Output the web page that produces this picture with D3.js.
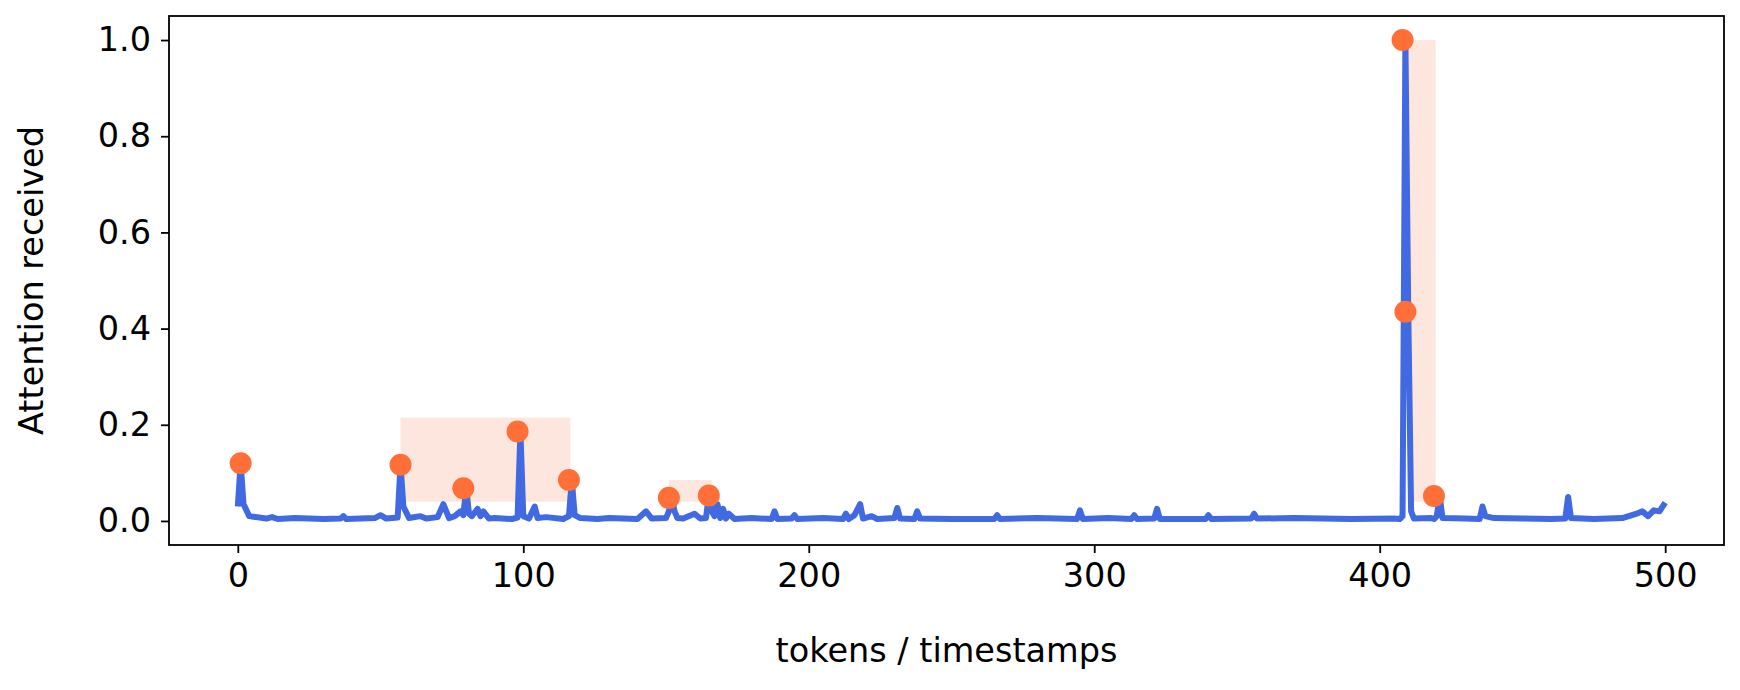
<!DOCTYPE html>
<html>
<head>
<meta charset="utf-8">
<script src="https://cdn.jsdelivr.net/npm/d3@7"></script>
<style>
  body { margin: 0; background: #fff; }
  text { font-family: "DejaVu Sans", sans-serif; }
</style>
</head>
<body>
<div id="chart"></div>
<script>
// line vertices (token index, attention)
const tokens = [0, 1, 2, 4, 10, 12, 14, 20, 30, 36, 37, 38, 48, 50, 52, 56, 57, 58, 60, 64, 66, 70, 72, 74, 76, 78, 79, 80, 81, 82, 84, 85, 86, 88, 90, 96, 98, 99, 100, 102, 104, 105, 108, 114, 116, 117, 118, 120, 126, 130, 140, 143, 145, 150, 151, 152, 153, 154, 156, 160, 162, 164, 165, 166, 167, 168, 169, 170, 171, 172, 174, 180, 187, 188, 189, 194, 195, 196, 205, 212, 213, 214, 216, 218, 219, 222, 224, 230, 231, 232, 237, 238, 239, 250, 265, 266, 267, 280, 294, 295, 296, 305, 313, 314, 315, 321, 322, 323, 339, 340, 341, 355, 356, 357, 370, 390, 405, 407, 408, 409, 410, 411, 412, 418, 419, 420, 421, 422, 430, 435, 436, 437, 440, 450, 460, 465, 466, 467, 475, 485, 490, 492, 494, 496, 498, 500];
const attention = [0.03, 0.12, 0.035, 0.01, 0.005, 0.008, 0.004, 0.006, 0.004, 0.005, 0.01, 0.004, 0.006, 0.012, 0.005, 0.007, 0.117, 0.03, 0.006, 0.01, 0.005, 0.008, 0.035, 0.006, 0.01, 0.02, 0.012, 0.068, 0.015, 0.01, 0.025, 0.01, 0.02, 0.005, 0.006, 0.004, 0.007, 0.186, 0.01, 0.005, 0.03, 0.006, 0.008, 0.004, 0.01, 0.085, 0.012, 0.006, 0.004, 0.006, 0.004, 0.02, 0.005, 0.006, 0.02, 0.048, 0.02, 0.006, 0.005, 0.015, 0.005, 0.006, 0.053, 0.02, 0.01, 0.035, 0.006, 0.025, 0.005, 0.015, 0.004, 0.006, 0.004, 0.02, 0.004, 0.005, 0.012, 0.004, 0.006, 0.004, 0.015, 0.004, 0.012, 0.035, 0.005, 0.01, 0.004, 0.006, 0.027, 0.005, 0.004, 0.02, 0.005, 0.004, 0.004, 0.012, 0.004, 0.006, 0.004, 0.022, 0.004, 0.006, 0.004, 0.012, 0.004, 0.005, 0.025, 0.004, 0.004, 0.012, 0.004, 0.005, 0.015, 0.005, 0.006, 0.004, 0.005, 0.004, 0.01, 1.0, 0.435, 0.02, 0.005, 0.006, 0.004, 0.01, 0.052, 0.006, 0.005, 0.004, 0.03, 0.01, 0.006, 0.005, 0.004, 0.005, 0.05, 0.006, 0.004, 0.006, 0.015, 0.02, 0.01, 0.022, 0.02, 0.038];

// highlighted peaks
const peakTokens = [1, 57, 79, 98, 116, 151, 165, 408, 409, 419];
const peakValues = [0.12, 0.117, 0.068, 0.186, 0.085, 0.048, 0.053, 1.0, 0.435, 0.052];

// shaded groups
const groupX0 = [57, 151, 409.8];
const groupX1 = [116.5, 166, 419.6];
const groupY0 = [0.04, 0.04, 0.04];
const groupY1 = [0.215, 0.085, 1.0];

const xTicks = [0, 100, 200, 300, 400, 500];
const yTicks = [0, 0.2, 0.4, 0.6, 0.8, 1.0];

const svgWidth = 1740, svgHeight = 690;
const margin = { top: 16, left: 169, bottom: 145, right: 16 };
const x0 = margin.left, x1 = svgWidth - margin.right;
const yTop = margin.top, yBot = svgHeight - margin.bottom;

const svg = d3.select('#chart').append('svg')
    .attr('width', svgWidth).attr('height', svgHeight);

const x = d3.scaleLinear().domain([-24.1, 520.6]).range([x0, x1]);
const y = d3.scaleLinear().domain([-0.05, 1.05]).range([yBot, yTop]);

svg.append('g').selectAll('rect')
    .data(groupX0.map((d, i) => i))
    .join('rect')
    .attr('x', i => x(groupX0[i]))
    .attr('width', i => x(groupX1[i]) - x(groupX0[i]))
    .attr('y', i => y(groupY1[i]))
    .attr('height', i => y(groupY0[i]) - y(groupY1[i]))
    .attr('fill', '#fde6de');

const line = d3.line().x(d => x(d[0])).y(d => y(d[1]));
svg.append('path')
    .datum(tokens.map((t, i) => [t, attention[i]]))
    .attr('d', line)
    .attr('fill', 'none')
    .attr('stroke', '#4169e1')
    .attr('stroke-width', 6)
    .attr('stroke-linejoin', 'round');

svg.append('g').selectAll('circle')
    .data(peakTokens.map((t, i) => [t, peakValues[i]]))
    .join('circle')
    .attr('cx', d => x(d[0]))
    .attr('cy', d => y(d[1]))
    .attr('r', 11)
    .attr('fill', '#ff6f37');

const xAxis = svg.append('g')
    .attr('transform', `translate(0, ${yBot})`)
    .call(d3.axisBottom(x).tickValues(xTicks).tickSize(8).tickPadding(10).tickFormat(d3.format('d')));
const yAxis = svg.append('g')
    .attr('transform', `translate(${x0}, 0)`)
    .call(d3.axisLeft(y).tickValues(yTicks).tickSize(8).tickPadding(10).tickFormat(d3.format('.1f')));

[xAxis, yAxis].forEach(a => {
    a.select('.domain').remove();
    a.selectAll('line').attr('stroke', '#000').attr('stroke-width', 1.8);
    a.selectAll('text').attr('font-size', 33.5).attr('fill', '#000')
        .attr('font-family', '"DejaVu Sans", sans-serif');
});

svg.append('rect')
    .attr('x', x0).attr('y', yTop)
    .attr('width', x1 - x0).attr('height', yBot - yTop)
    .attr('fill', 'none').attr('stroke', '#000').attr('stroke-width', 1.8);

svg.append('text')
    .attr('x', (x0 + x1) / 2).attr('y', 662)
    .attr('text-anchor', 'middle').attr('font-size', 33.5)
    .text('tokens / timestamps');

svg.append('text')
    .attr('transform', `translate(43, ${(yTop + yBot) / 2}) rotate(-90)`)
    .attr('text-anchor', 'middle').attr('font-size', 33.5)
    .text('Attention received');
</script>
</body>
</html>
